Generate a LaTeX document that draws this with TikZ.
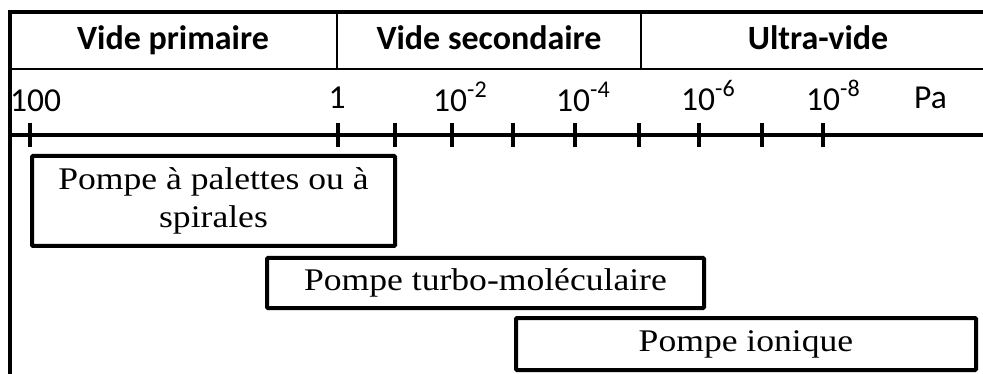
\documentclass[tikz,border=0pt]{standalone}
\usepackage{fontspec}
\setmainfont{Liberation Serif}[FakeStretch=1.13]
\newfontfamily\calib{Carlito}
\tikzset{
  frameline/.style={line width=4pt},
  thinline/.style={line width=1.5pt},
  axisline/.style={line width=3.5pt},
  tickmark/.style={line width=3.5pt},
  head/.style={font=\calib\bfseries\fontsize{34}{36}\selectfont, inner sep=0pt, anchor=base},
  lab/.style={font=\calib\fontsize{33.5}{35}\selectfont, inner sep=0pt, anchor=base west},
  pump/.style={draw, line width=4pt, rounded corners=1pt, inner sep=0pt,
    font=\fontsize{31.5}{38}\selectfont, align=center},
}
\newcommand\tenexp[1]{10\raisebox{14pt}{\fontsize{24}{24}\selectfont #1}}
\begin{document}
\begin{tikzpicture}[x=1pt,y=-1pt]
\useasboundingbox (0,0) rectangle (983,374);
% frame coordinates
\coordinate (tl) at (10,12);
\coordinate (tr) at (983,12);
\coordinate (hl) at (10,69);
\coordinate (hr) at (983,69);
\coordinate (al) at (10,135);
\coordinate (ar) at (983,135);
\coordinate (bl) at (10,374);
\coordinate (d1t) at (337,12);
\coordinate (d1b) at (337,69);
\coordinate (d2t) at (641,12);
\coordinate (d2b) at (641,69);
% header
\draw[thinline] (hl) -- (hr);
\draw[thinline] (d1t) -- (d1b);
\draw[thinline] (d2t) -- (d2b);
\draw[frameline] (bl) -- (tl) -- (tr);
\node[head] (h1) at (173,50) {Vide primaire};
\node[head] (h2) at (489,50) {Vide secondaire};
\node[head] (h3) at (818,50) {Ultra-vide};
% axis
\draw[axisline] (al) -- (ar);
\foreach \x in {30,338,395,452,513,575,639,699,762,823}
  \draw[tickmark] (\x,123) -- (\x,147);
\node[lab] (l100) at (10,112) {100};
\node[lab, anchor=base] (l1) at (337,109) {1};
\node[lab] (l2) at (433,112) {\tenexp{-2}};
\node[lab] (l4) at (556,112) {\tenexp{-4}};
\node[lab] (l6) at (681,111) {\tenexp{-6}};
\node[lab] (l8) at (806,111) {\tenexp{-8}};
\node[lab] (lpa) at (914,109) {Pa};
% pumps
\node[pump, minimum width=363pt, minimum height=90pt] (p1) at (213.5,201)
  {Pompe à palettes ou à\\spirales};
\node[pump, minimum width=437pt, minimum height=50pt] (p2) at (485.5,283)
  {Pompe turbo-moléculaire};
\node[pump, minimum width=460pt, minimum height=52pt] (p3) at (746,344)
  {Pompe ionique};
\end{tikzpicture}
\end{document}
